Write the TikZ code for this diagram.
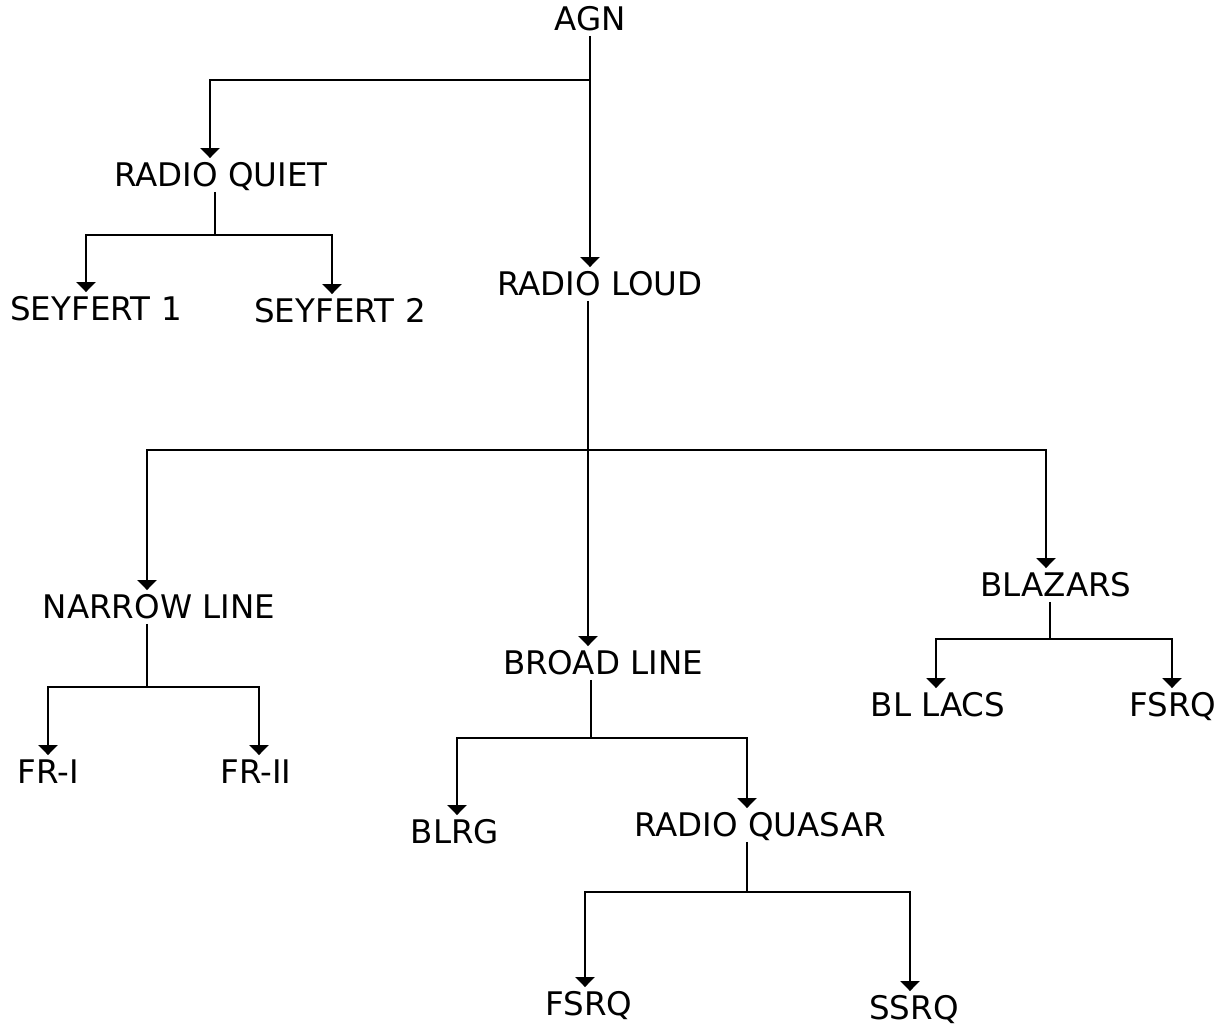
\documentclass[tikz,border=0pt]{standalone}
\usepackage{fontspec}
\setmainfont{DejaVu Sans}
\usetikzlibrary{arrows.meta}
\begin{document}
\begin{tikzpicture}[x=1pt,y=-1pt,
  lbl/.style={inner xsep=0pt, inner ysep=5pt, text height=23.5pt, text depth=0pt, font=\fontsize{32.5}{38}\selectfont},
  conn/.style={line width=2.2pt},
  arr/.style={conn,-{Triangle[width=19pt,length=10pt]}}]
\fill[white] (0,0) rectangle (1222,1026);
% nodes
\node[lbl] (agn)  at (590,19)   {AGN};
\node[lbl] (rq)   at (221,175)  {RADIO QUIET};
\node[lbl] (s1)   at (96,309)   {SEYFERT 1};
\node[lbl] (s2)   at (340,311)  {SEYFERT 2};
\node[lbl] (rl)   at (600,284)  {RADIO LOUD};
\node[lbl] (nl)   at (159,607)  {NARROW LINE};
\node[lbl] (fr1)  at (48,772)   {FR-I};
\node[lbl] (fr2)  at (256,772)  {FR-II};
\node[lbl] (bl)   at (603,663)  {BROAD LINE};
\node[lbl] (blrg) at (455,832)  {BLRG};
\node[lbl] (rqs)  at (760,825)  {RADIO QUASAR};
\node[lbl] (fsrq) at (589,1004) {FSRQ};
\node[lbl] (ssrq) at (914,1008) {SSRQ};
\node[lbl] (blz)  at (1056,585) {BLAZARS};
\node[lbl] (bll)  at (938,705)  {BL LACS};
\node[lbl] (fsrqb) at (1173,705) {FSRQ};
% junctions
\coordinate (j1) at (590,80);
\coordinate (j2) at (215,235);
\coordinate (j3) at (588,450);
\coordinate (j4) at (147,687);
\coordinate (j5) at (591,738);
\coordinate (j6) at (747,892);
\coordinate (j7) at (1050,639);
% connectors
\draw[arr] (agn.south) -- (agn.south |- rl.north);
\draw[arr] (j1) -| ([xshift=-11pt]rq.north);
\draw[conn] ([xshift=-6pt]rq.south) -- (j2);
\draw[arr] (j2) -| ([xshift=-10pt]s1.north);
\draw[arr] (j2) -| ([xshift=-8pt]s2.north);
\draw[conn] ([xshift=-12pt]rl.south) -- (j3);
\draw[arr] (j3) -| ([xshift=-12pt]nl.north);
\draw[arr] (j3) -- ([xshift=-15pt]bl.north);
\draw[arr] (j3) -| ([xshift=-10pt]blz.north);
\draw[conn] ([xshift=-12pt]nl.south) -- (j4);
\draw[arr] (j4) -| (fr1.north);
\draw[arr] (j4) -| ([xshift=3pt]fr2.north);
\draw[conn] ([xshift=-12pt]bl.south) -- (j5);
\draw[arr] (j5) -| ([xshift=2pt]blrg.north);
\draw[arr] (j5) -| ([xshift=-13pt]rqs.north);
\draw[conn] ([xshift=-13pt]rqs.south) -- (j6);
\draw[arr] (j6) -| ([xshift=-4pt]fsrq.north);
\draw[arr] (j6) -| ([xshift=-4pt]ssrq.north);
\draw[conn] ([xshift=-6pt]blz.south) -- (j7);
\draw[arr] (j7) -| ([xshift=-2pt]bll.north);
\draw[arr] (j7) -| ([xshift=-1pt]fsrqb.north);
\end{tikzpicture}
\end{document}
